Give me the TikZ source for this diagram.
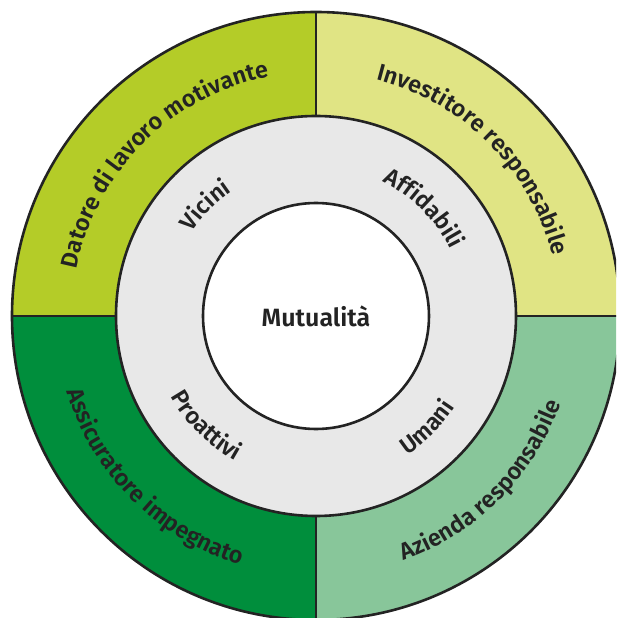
\documentclass[tikz,border=0pt]{standalone}
\usepackage{fontspec}
\setmainfont{Fira Sans}[BoldFont={Fira Sans SemiBold}]
\usetikzlibrary{decorations.text}
\definecolor{leafgreen}{RGB}{180,204,40}
\definecolor{palelime}{RGB}{224,228,132}
\definecolor{deepgreen}{RGB}{0,142,60}
\definecolor{sagegreen}{RGB}{136,198,154}
\definecolor{ringgrey}{RGB}{232,232,232}
\definecolor{inkdark}{RGB}{35,35,35}
\newcommand{\outerfont}{\fontsize{23.5}{23.5}\selectfont\bfseries}
\newcommand{\innerfont}{\fontsize{23.5}{23.5}\selectfont\bfseries}

\begin{document}
\begin{tikzpicture}[
  rim/.style={draw=inkdark, line width=2.6pt},
  outerlabel/.style={decorate, decoration={text along path, text align=center,
    text color=inkdark, text={|\outerfont|#1}}},
  innerlabel/.style={decorate, decoration={text along path, text align=center,
    text color=inkdark, text={|\innerfont|#1}}}]
\useasboundingbox (-316pt,-302pt) rectangle (300pt,316pt);
\clip (-316pt,-302pt) rectangle (300pt,316pt);
% quadrants
\fill[leafgreen] (0,0) -- (180:304pt) arc[start angle=180, end angle=90, radius=304pt] -- cycle;
\fill[palelime] (0,0) -- (90:304pt) arc[start angle=90, end angle=0, radius=304pt] -- cycle;
\fill[deepgreen] (0,0) -- (180:304pt) arc[start angle=180, end angle=270, radius=304pt] -- cycle;
\fill[sagegreen] (0,0) -- (270:304pt) arc[start angle=270, end angle=360, radius=304pt] -- cycle;
\draw[rim] (0,0) circle[radius=304pt];
\foreach \a in {0,90,180,270}
  \draw[rim] (\a:200pt) -- (\a:304pt);
% rings
\draw[rim, fill=ringgrey] (0,0) circle[radius=200pt];
\draw[rim, fill=white] (0,0) circle[radius=113pt];
\node[font=\fontsize{25}{25}\selectfont\bfseries, text=inkdark] (mutualita) at (0,0) {Mutualità};
% outer labels
\path[outerlabel={Datore di lavoro motivante}] (180:244pt) arc[start angle=180, end angle=90, radius=244pt];
\path[outerlabel={Investitore responsabile}] (90:244pt) arc[start angle=90, end angle=0, radius=244pt];
\path[outerlabel={Assicuratore impegnato}] (180:260pt) arc[start angle=180, end angle=270, radius=260pt];
\path[outerlabel={Azienda responsabile}] (270:260pt) arc[start angle=270, end angle=360, radius=260pt];
% inner labels
\path[innerlabel={Vicini}] (180:150pt) arc[start angle=180, end angle=90, radius=150pt];
\path[innerlabel={Affidabili}] (90:150pt) arc[start angle=90, end angle=0, radius=150pt];
\path[innerlabel={Proattivi}] (180:166pt) arc[start angle=180, end angle=270, radius=166pt];
\path[innerlabel={Umani}] (270:166pt) arc[start angle=270, end angle=360, radius=166pt];
\end{tikzpicture}
\end{document}
